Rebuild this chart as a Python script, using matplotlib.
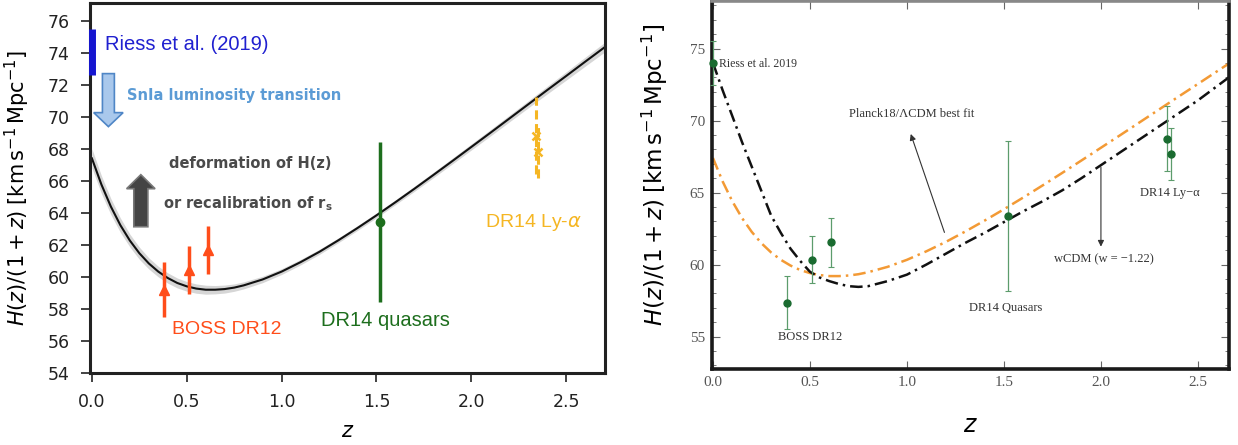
import matplotlib.pyplot as plt
from matplotlib.patches import FancyArrow
from matplotlib.ticker import MultipleLocator

plt.rcParams["mathtext.fontset"] = "dejavusans"

# ---- left panel data ----
curve_z = [0.0, 0.05, 0.1, 0.15, 0.2, 0.25, 0.3, 0.35, 0.4, 0.45, 0.5, 0.55, 0.6,
           0.65, 0.7, 0.75, 0.8, 0.9, 1.0, 1.1, 1.2, 1.3, 1.4, 1.5, 1.6, 1.7, 1.8,
           1.9, 2.0, 2.1, 2.2, 2.3, 2.4, 2.5, 2.6, 2.7]
curve_h = [67.40, 65.77, 64.39, 63.23, 62.27, 61.48, 60.84, 60.33, 59.93, 59.62,
           59.41, 59.27, 59.20, 59.20, 59.24, 59.33, 59.47, 59.84, 60.33, 60.92,
           61.57, 62.29, 63.05, 63.84, 64.66, 65.50, 66.36, 67.23, 68.11, 68.99,
           69.88, 70.77, 71.66, 72.54, 73.43, 74.31]
curve_band = [0.6, 0.55, 0.5, 0.45, 0.4, 0.38, 0.35, 0.33, 0.32, 0.31, 0.3, 0.29,
              0.28, 0.26, 0.25, 0.23, 0.22, 0.2, 0.18, 0.17, 0.16, 0.15, 0.15,
              0.15, 0.15, 0.16, 0.17, 0.18, 0.19, 0.2, 0.21, 0.22, 0.24, 0.26,
              0.28, 0.3]

riess_z, riess_h, riess_err = 0.0, 74.03, 1.42
boss_z = [0.38, 0.51, 0.61]
boss_h = [59.2, 60.45, 61.7]
boss_err = [1.7, 1.5, 1.5]
qso_z, qso_h, qso_err = 1.52, 63.45, 5.0
lya_z = [2.34, 2.35]
lya_h = [68.8, 67.8]
lya_err = [2.4, 1.6]

# ---- right panel data ----
r_curve_z = [0.0, 0.05, 0.1, 0.15, 0.2, 0.25, 0.3, 0.35, 0.4, 0.45, 0.5, 0.55,
             0.6, 0.65, 0.7, 0.75, 0.8, 0.9, 1.0, 1.1, 1.2, 1.3, 1.4, 1.5, 1.6,
             1.7, 1.8, 1.9, 2.0, 2.1, 2.2, 2.3, 2.4, 2.5, 2.6, 2.66]
r_lcdm_h = [67.40, 65.77, 64.39, 63.23, 62.27, 61.48, 60.84, 60.33, 59.93, 59.62,
            59.41, 59.27, 59.20, 59.20, 59.24, 59.33, 59.47, 59.84, 60.33, 60.92,
            61.57, 62.29, 63.05, 63.84, 64.66, 65.50, 66.36, 67.23, 68.11, 68.99,
            69.88, 70.77, 71.66, 72.54, 73.43, 73.96]
r_wcdm_h = [74.0, 72.1, 70.3, 68.5, 66.8, 65.1, 63.4, 62.2, 61.1, 60.25, 59.5,
            59.1, 58.85, 58.65, 58.5, 58.45, 58.5, 58.85, 59.3, 60.0, 60.75, 61.5,
            62.2, 62.95, 63.7, 64.4, 65.15, 66.0, 66.9, 67.8, 68.7, 69.6, 70.5,
            71.4, 72.4, 73.0]
r_data_z = [0.0, 0.38, 0.51, 0.61, 1.52, 2.34, 2.36]
r_data_h = [74.0, 57.35, 60.35, 61.55, 63.35, 68.75, 67.65]
r_data_err = [1.5, 1.85, 1.65, 1.7, 5.2, 2.25, 1.8]

fig = plt.figure(figsize=(12.38, 4.45), dpi=100)
ylab = r"$H(z)/(1+z)\;[\mathrm{km\,s^{-1}\,Mpc^{-1}}]$"

# ================= left =================
ax = fig.add_axes([0.0727, 0.1618, 0.416, 0.8315])
ax.fill_between(curve_z, [h - b for h, b in zip(curve_h, curve_band)],
                [h + b for h, b in zip(curve_h, curve_band)],
                color="#bbbbbb", alpha=0.6, lw=0)
ax.plot(curve_z, curve_h, color="#111111", lw=1.5)

ax.errorbar(riess_z, riess_h, yerr=riess_err, fmt="none", ecolor="#1515d0",
            elinewidth=5, clip_on=False, zorder=5)
ax.errorbar(boss_z, boss_h, yerr=boss_err, fmt="^", color="#ff4d1a", ms=7,
            elinewidth=2.5, zorder=4)
ax.errorbar(qso_z, qso_h, yerr=qso_err, fmt="o", color="#1d6e1d", ms=6,
            elinewidth=2.5, zorder=4)
eb = ax.errorbar(lya_z, lya_h, yerr=lya_err, fmt="x", color="#f5b623", ms=6,
                 mew=1.8, elinewidth=2.2, zorder=4)
eb[-1][0].set_linestyle((0, (3, 1.5)))

ax.add_patch(FancyArrow(0.087, 72.69, 0, -3.31, width=0.063, head_width=0.155,
                        head_length=0.875, length_includes_head=True,
                        fc="#a9c8ec", ec="#4f86c6", lw=1.2))
ax.add_patch(FancyArrow(0.258, 63.13, 0, 3.25, width=0.074, head_width=0.15,
                        head_length=0.875, length_includes_head=True,
                        fc="#444444", ec="#777777", lw=1.2))

ax.text(0.07, 74.5, "Riess et al. (2019)", color="#2020d0", fontsize=14.5,
        family="Liberation Sans", va="center")
ax.text(0.185, 71.35, "SnIa luminosity transition", color="#5b9bd5",
        fontsize=10.5, fontweight="bold", va="center")
ax.text(0.406, 67.05, "deformation of H(z)", color="#4a4a4a", fontsize=10.5,
        fontweight="bold", va="center")
ax.text(0.374, 64.6, r"or recalibration of r$_\mathbf{s}$", color="#4a4a4a",
        fontsize=10.5, fontweight="bold", va="center")
ax.text(0.42, 56.7, "BOSS DR12", color="#ff4d1a", fontsize=14,
        family="Liberation Sans", va="center")
ax.text(1.21, 57.3, "DR14 quasars", color="#1d6e1d", fontsize=14.5,
        family="Liberation Sans", va="center")
ax.text(2.07, 63.4, r"DR14 Ly-$\alpha$", color="#f5b623", fontsize=14,
        family="Liberation Sans", va="center")

ax.set_xlim(-0.01, 2.705)
ax.set_ylim(54, 77.1)
ax.set_xticks([0.0, 0.5, 1.0, 1.5, 2.0, 2.5])
ax.set_yticks(range(54, 77, 2))
ax.tick_params(direction="out", length=6.5, width=1.2, pad=8, labelsize=12.5,
               colors="#222222")
for s in ax.spines.values():
    s.set_linewidth(2.2)
    s.set_color("#222222")
ax.set_ylabel(ylab, fontsize=15)
ax.yaxis.set_label_coords(-0.113, 0.5)
ax.set_xlabel(r"$z$", fontsize=15)
ax.xaxis.set_label_coords(0.5, -0.13)

# ================= right =================
ax2 = fig.add_axes([0.5751, 0.1708, 0.4176, 0.827])
ax2.plot(r_curve_z, r_lcdm_h, color="#f39a35", lw=1.8,
         linestyle=(0, (5, 2, 1, 2)))
ax2.plot(r_curve_z, r_wcdm_h, color="#111111", lw=1.8,
         linestyle=(0, (5, 2, 1, 2)))
ax2.errorbar(r_data_z, r_data_h, yerr=r_data_err, fmt="o", color="#1a6b30",
             ms=5, ecolor="#5c9c6c", elinewidth=0.9, capsize=2, capthick=0.8,
             zorder=4, clip_on=False)

serif = dict(family="Liberation Serif", color="#333333")
ax2.text(0.03, 73.95, "Riess et al. 2019", fontsize=8.5, va="center", **serif)
ax2.text(0.70, 70.45, "Planck18/\u039bCDM best fit", fontsize=9, va="center",
         **serif)
ax2.text(1.756, 60.4, "wCDM (w = \u22121.22)", fontsize=9, va="center", **serif)
ax2.text(0.335, 54.95, "BOSS DR12", fontsize=9, va="center", **serif)
ax2.text(1.32, 56.95, "DR14 Quasars", fontsize=9, va="center", **serif)
ax2.text(2.203, 64.95, "DR14 Ly\u2212\u03b1", fontsize=9, va="center", **serif)
ax2.annotate("", xy=(1.015, 69.25), xytext=(1.198, 62.05),
             arrowprops=dict(arrowstyle="-|>", color="#333333", lw=0.8,
                             mutation_scale=9))
ax2.annotate("", xy=(2.0, 61.05), xytext=(2.0, 66.95),
             arrowprops=dict(arrowstyle="-|>", color="#333333", lw=0.8,
                             mutation_scale=9))

ax2.set_xlim(-0.005, 2.66)
ax2.set_ylim(52.75, 78.3)
ax2.set_xticks([0.0, 0.5, 1.0, 1.5, 2.0, 2.5])
ax2.set_yticks([55, 60, 65, 70, 75])
ax2.yaxis.set_minor_locator(MultipleLocator(1))
ax2.tick_params(which="both", direction="in", top=True, right=True,
                colors="#666666", labelcolor="#555555", labelsize=11)
ax2.tick_params(which="major", length=6, width=0.8, pad=5)
ax2.tick_params(which="minor", length=3, width=0.6)
for lab in ax2.get_xticklabels() + ax2.get_yticklabels():
    lab.set_family("Liberation Serif")
for s in ax2.spines.values():
    s.set_linewidth(2.6)
    s.set_color("#1a1a1a")
ax2.spines["top"].set_color("#888888")
ax2.set_ylabel(ylab, fontsize=16.5)
ax2.yaxis.set_label_coords(-0.081, 0.527)
ax2.set_xlabel(r"$z$", fontsize=17)
ax2.xaxis.set_label_coords(0.5, -0.12)

fig.savefig("out.png", dpi=100)
